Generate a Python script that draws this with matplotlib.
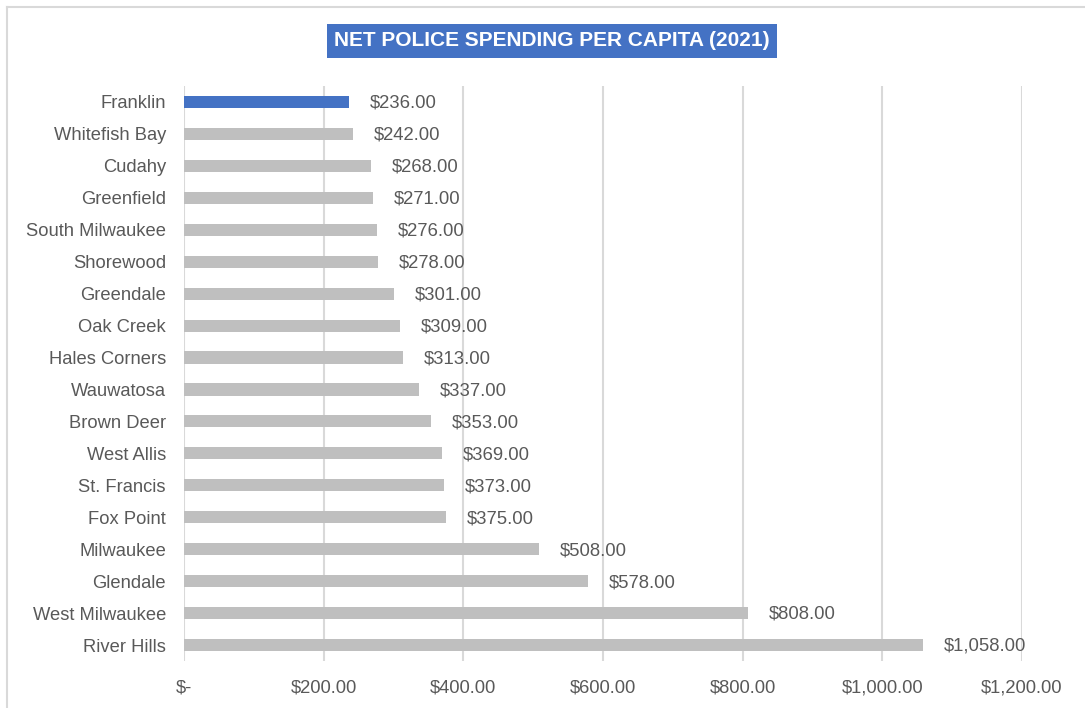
import matplotlib.pyplot as plt
from matplotlib.lines import Line2D

plt.rcParams['font.family'] = ['Liberation Sans', 'DejaVu Sans']

cities = ["Franklin", "Whitefish Bay", "Cudahy", "Greenfield", "South Milwaukee",
          "Shorewood", "Greendale", "Oak Creek", "Hales Corners", "Wauwatosa",
          "Brown Deer", "West Allis", "St. Francis", "Fox Point", "Milwaukee",
          "Glendale", "West Milwaukee", "River Hills"]
spending = [236, 242, 268, 271, 276, 278, 301, 309, 313, 337, 353, 369, 373, 375,
            508, 578, 808, 1058]
x_ticks = [0, 200, 400, 600, 800, 1000, 1200]

txt = '#595959'
fig = plt.figure(figsize=(10.85, 7.08), dpi=100)
ax = fig.add_axes([184 / 1085, 1 - 661 / 708, 838 / 1085, 575 / 708])

colors = ['#4472C4' if c == "Franklin" else '#BFBFBF' for c in cities]
ypos = list(range(len(cities)))
ax.barh(ypos, spending, height=0.38, color=colors, zorder=3)

for y, v in zip(ypos, spending):
    ax.annotate(f"${v:,.2f}", (v, y), xytext=(15, -1), textcoords='offset points',
                va='center', ha='left', fontsize=13.3, color=txt, zorder=4)

ax.set_yticks(ypos)
ax.set_yticklabels(cities, fontsize=13.2, color=txt)
ax.set_ylim(len(cities) - 0.5, -0.5)
ax.set_xlim(0, 1200)
ax.set_xticks(x_ticks)
ax.set_xticklabels(["$-" if t == 0 else f"${t:,.2f}" for t in x_ticks],
                   fontsize=13.2, color=txt)
ax.tick_params(axis='both', length=0)
ax.tick_params(axis='x', pad=13.5)
ax.tick_params(axis='y', pad=13)
ax.grid(axis='x', color='#D9D9D9', linewidth=1.5, zorder=0)
for s in ax.spines.values():
    s.set_visible(False)

fig.text(552 / 1085, 1 - 41 / 708, "NET POLICE SPENDING PER CAPITA (2021)",
         ha='center', va='center', fontsize=15, fontweight='bold', color='white',
         bbox=dict(boxstyle='square,pad=0.35', facecolor='#4472C4', edgecolor='none'))

# outer frame (top and left edge only, the rest is cropped off)
fig.add_artist(Line2D([7 / 1085, 1], [1 - 7 / 708, 1 - 7 / 708], color='#D9D9D9', linewidth=1.5))
fig.add_artist(Line2D([7 / 1085, 7 / 1085], [0, 1 - 7 / 708], color='#D9D9D9', linewidth=1.5))

fig.savefig("out.png", dpi=100)
